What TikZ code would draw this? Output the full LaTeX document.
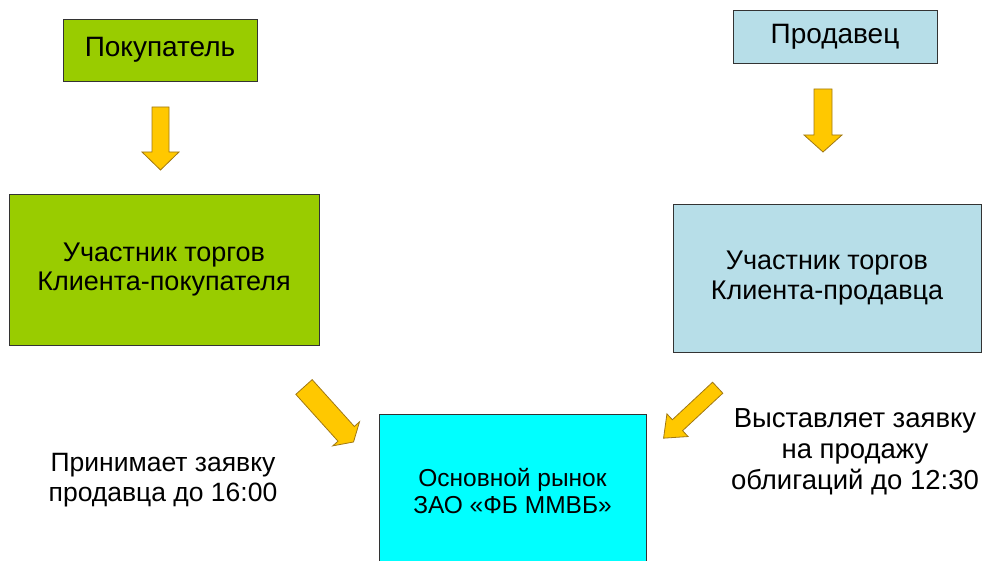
\documentclass[tikz,border=0pt]{standalone}
\usepackage{fontspec}
\setmainfont{Liberation Sans}
\definecolor{boxgreen}{HTML}{99CC00}
\definecolor{boxblue}{HTML}{B7DEE8}
\definecolor{boxcyan}{HTML}{00FFFF}
\definecolor{arrowfill}{HTML}{FFC800}
\definecolor{arrowline}{HTML}{A07814}
\definecolor{boxline}{HTML}{333333}
\tikzset{
  box/.style={draw=boxline, line width=0.9pt, inner sep=0pt, align=center,
    font=\fontsize{27}{30}\selectfont},
  freetext/.style={inner sep=0pt, align=center, font=\fontsize{26.5}{30}\selectfont},
  fatarrow/.style={fill=arrowfill, draw=arrowline, line width=0.8pt, line join=miter}
}
% #1 = tail x, #2 = tail y, #3 = rotation, #4 = length, #5 = half shaft, #6 = half head, #7 = head length
\newcommand{\fatarr}[7]{%
  \begin{scope}[shift={(#1,#2)}, rotate=#3]
    \draw[fatarrow] (0,-#5) -- ({#4-#7},-#5) -- ({#4-#7},-#6) -- (#4,0)
      -- ({#4-#7},#6) -- ({#4-#7},#5) -- (0,#5) -- cycle;
  \end{scope}}
\begin{document}
\begin{tikzpicture}[x=1pt, y=-1pt]
\useasboundingbox (0,0) rectangle (985,561);
\begin{scope}
\clip (0,0) rectangle (985,561);
\node[box, fill=boxgreen, minimum width=194pt, minimum height=62pt, font=\fontsize{28}{30}\selectfont] (buyer) at (160,50) {Покупатель};
\node[box, fill=boxgreen, minimum width=310pt, minimum height=151pt] (buyerpart) at (164,269.5) {\raisebox{-4pt}{\shortstack{Участник торгов\\[2pt]Клиента-покупателя}}};
\node[box, fill=boxblue, minimum width=204pt, minimum height=53pt, font=\fontsize{28}{30}\selectfont] (seller) at (835,36.5) {Продавец};
\node[box, fill=boxblue, minimum width=308pt, minimum height=148pt] (sellerpart) at (827,278) {Участник торгов\\Клиента-продавца};
\node[box, fill=boxcyan, minimum width=267pt, minimum height=154pt, font=\fontsize{24.5}{27}\selectfont] (market) at (512.5,491) {Основной рынок\\ЗАО «ФБ ММВБ»};
\end{scope}
\node[freetext] (accept) at (163,480) {Принимает заявку\\продавца до 16:00};
\node[freetext, font=\fontsize{27.5}{31}\selectfont] (offer) at (855,452) {Выставляет заявку\\на продажу\\облигаций до 12:30};
\fatarr{160.5}{107}{-90}{63}{8.5}{18.5}{18}
\fatarr{823}{89}{-90}{63}{9}{19}{17}
\fatarr{304}{387}{-48}{74}{11}{18}{11}
\fatarr{717.7}{387.7}{-137}{74}{7.5}{15.5}{19}
\end{tikzpicture}
\end{document}
